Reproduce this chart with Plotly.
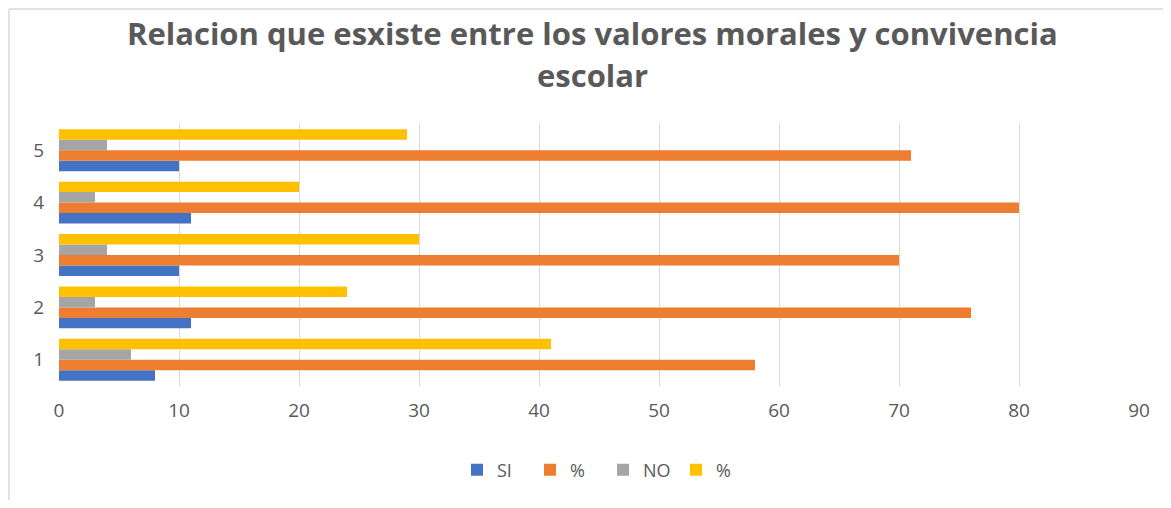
import plotly.graph_objects as go

categories = ["1", "2", "3", "4", "5"]
si_vals = [8, 11, 10, 11, 10]
si_pct = [58, 76, 70, 80, 71]
no_vals = [6, 3, 4, 3, 4]
no_pct = [41, 24, 30, 20, 29]
series_names = ["SI", "%", "NO", "%"]
colors = ["#4472C4", "#ED7D31", "#A5A5A5", "#FFC000"]
x_ticks = [0, 10, 20, 30, 40, 50, 60, 70, 80, 90]
title_lines = ["Relacion que esxiste entre los valores morales y convivencia", "escolar"]

fig = go.Figure()
for name, vals, col in zip(series_names, [si_vals, si_pct, no_vals, no_pct], colors):
    fig.add_trace(go.Bar(y=categories, x=vals, name=name, orientation="h",
                         marker=dict(color=col, line=dict(width=0))))

# page has 8px body margin; figure coordinates = page coordinates - 8
OFF = 8
W, H = 1171 - 2 * OFF, 508 - 2 * OFF
ml = 59 - OFF
mt = 124 - OFF
mr = (W + OFF) - 1139
mb = (H + OFF) - 386
pw, ph = W - ml - mr, H - mt - mb

def px_x(p):
    return (p - OFF - ml) / pw

def px_y(p):
    return (H - mb - (p - OFF)) / ph

fig.update_layout(
    width=W, height=H,
    margin=dict(l=ml, r=mr, t=mt, b=mb),
    barmode="group", bargap=0.2, bargroupgap=0.0,
    plot_bgcolor="white", paper_bgcolor="white",
    font=dict(family="Open Sans", color="#595959", size=19),
    xaxis=dict(range=[0, 90], tickvals=x_ticks, showgrid=True, gridcolor="#D9D9D9",
               gridwidth=1, zeroline=False, showline=False, ticks="",
               tickfont=dict(size=19, color="#595959"), ticklabelstandoff=11),
    yaxis=dict(type="category", showgrid=False, zeroline=False, showline=False, ticks="",
               tickfont=dict(size=19, color="#595959"), ticklabelstandoff=14),
    showlegend=True,
    legend=dict(orientation="h", x=px_x(603), xanchor="center", y=px_y(470), yanchor="middle",
                font=dict(size=18, color="#595959"), traceorder="normal", itemwidth=30,
                entrywidth=28, entrywidthmode="pixels"),
)

fig.add_annotation(text="<b>" + title_lines[0] + "</b>", xref="paper", yref="paper",
                   x=px_x(592), y=px_y(33), xanchor="center", yanchor="middle",
                   showarrow=False, font=dict(size=31, color="#595959", family="Open Sans"))
fig.add_annotation(text="<b>" + title_lines[1] + "</b>", xref="paper", yref="paper",
                   x=px_x(592), y=px_y(75), xanchor="center", yanchor="middle",
                   showarrow=False, font=dict(size=31, color="#595959", family="Open Sans"))

fig.add_shape(type="line", xref="paper", yref="paper", x0=px_x(9), x1=px_x(9),
              y0=px_y(9), y1=px_y(520), line=dict(color="#D9D9D9", width=1.5))
fig.add_shape(type="line", xref="paper", yref="paper", x0=px_x(9), x1=px_x(1180),
              y0=px_y(9), y1=px_y(9), line=dict(color="#D9D9D9", width=1.5))

fig.write_html("out.html")
